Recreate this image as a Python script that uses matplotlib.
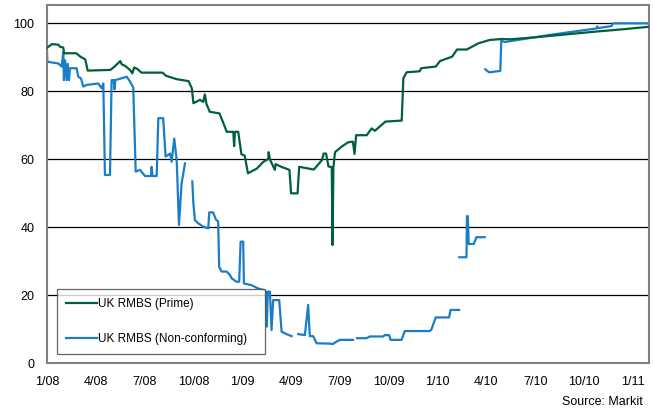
import numpy as np
import matplotlib
matplotlib.use('Agg')
import matplotlib.pyplot as plt

plt.rcParams['font.family'] = ['Liberation Sans', 'DejaVu Sans']

# x in months since Jan 2008, y in price
prime_month = [0.0, 0.3, 0.7, 0.8, 1.0, 1.05, 1.8, 2.05, 2.35, 2.5, 3.9, 4.2, 4.5, 4.6, 4.8,
               5.1, 5.25, 5.35, 5.55, 5.8, 7.1, 7.3, 7.95, 8.7, 8.9, 9.0, 9.4, 9.6, 9.7, 9.8,
               10.0, 10.6, 11.05, 11.45, 11.5, 11.55, 11.75, 11.95, 12.15, 12.35, 12.9, 13.3,
               13.6, 13.62, 13.7, 14.0, 14.05, 14.4, 14.9, 15.0, 15.4, 15.5, 16.4, 16.9, 17.0,
               17.15, 17.3, 17.5, 17.55, 17.6, 17.7, 18.1, 18.5, 18.8, 18.9, 19.0, 19.65,
               19.95, 20.15, 20.8, 21.8, 21.9, 22.1, 22.9, 23.0, 23.9, 24.15, 24.9, 25.2,
               25.8, 26.5, 27.2, 27.95, 28.5, 30.0, 32.0, 33.8, 35.5, 37.0]
prime_price = [92.7, 93.8, 93.6, 93.0, 92.8, 91.1, 91.1, 90.1, 89.3, 86.0, 86.2, 87.4, 88.8, 87.8, 87.4,
               86.2, 85.2, 86.9, 86.5, 85.4, 85.4, 84.5, 83.5, 82.9, 80.8, 76.4, 77.4, 76.8, 79.0, 76.2,
               73.9, 73.4, 68.0, 68.0, 63.8, 68.0, 68.0, 61.4, 61.0, 55.8, 57.2, 59.2,
               60.0, 62.0, 59.9, 56.8, 58.5, 57.7, 56.8, 49.9, 49.9, 57.7, 56.9, 59.7, 61.6,
               61.6, 57.8, 57.6, 34.7, 57.5, 62.0, 63.6, 64.9, 65.1, 61.5, 67.0, 67.0,
               69.0, 68.3, 71.0, 71.3, 83.7, 85.5, 85.8, 86.7, 87.2, 88.8, 90.1, 92.2,
               92.2, 94.0, 95.0, 95.3, 95.2, 95.8, 96.7, 97.5, 98.2, 98.9]

nan = np.nan
nc_month = [0.0, 0.02, 0.69, 0.9, 1.0, 1.04, 1.11, 1.21, 1.27, 1.35, 1.41, 1.82, 1.92, 2.09, 2.23,
            2.44, 3.15, 3.36, 3.46, 3.56, 3.87, 3.97, 4.1, 4.15, 4.2, 4.9, 5.1, 5.3, 5.45, 5.71,
            6.02, 6.39, 6.43, 6.48, 6.74, 6.84, 7.14, 7.29, 7.56, 7.66, 7.82, 7.97, 8.11, 8.27,
            8.48, 8.7,
            8.93, 8.99, 9.09, 9.29, 9.6, 9.91, 9.97, 10.21, 10.38, 10.52, 10.58, 10.73, 11.04,
            11.24, 11.35, 11.65, 11.81, 11.9, 12.06, 12.1, 12.36, 12.57, 12.98, 13.29, 13.45,
            13.51, 13.57, 13.7, 13.8, 13.9, 14.27, 14.42, 14.72, 15.03, 15.2,
            15.44, 15.85, 16.05, 16.15, 16.36, 16.57, 17.38, 17.59, 17.69, 18.0, 18.81, 18.95,
            19.06, 19.64, 19.84, 20.66, 20.76, 21.03, 21.11, 21.79, 21.99, 23.53, 23.63, 23.89,
            24.71, 24.8, 25.33, 25.33,
            25.34, 25.78, 25.81, 25.86, 25.92, 26.23, 26.39, 26.9, 26.91,
            26.93, 27.17, 27.86, 27.92, 28.13, 30.9, 33.77, 33.82, 33.88, 34.69, 34.79, 37.0]
nc_price = [91.5, 88.6, 88.1, 87.2, 91.3, 83.2, 89.0, 83.2, 88.0, 83.2, 86.7, 86.7, 84.2, 83.7, 81.3,
            81.8, 82.2, 80.8, 82.2, 55.3, 55.3, 83.2, 83.2, 80.5, 83.2, 84.2, 82.8, 81.0, 56.3, 56.8,
            55.0, 55.0, 57.7, 55.0, 55.0, 72.0, 72.0, 60.7, 61.6, 59.2, 66.0, 59.7, 40.6, 52.8,
            58.7, nan,
            53.4, 47.4, 42.0, 41.1, 40.1, 39.6, 44.3, 44.3, 42.2, 41.6, 28.3, 26.9, 26.9,
            25.9, 24.9, 23.9, 23.9, 35.7, 35.7, 23.4, 23.1, 22.9, 21.9, 21.5, 21.0,
            10.7, 21.0, 21.0, 9.7, 18.5, 18.5, 9.2, 8.5, 7.9, nan,
            8.5, 8.2, 17.1, 7.9, 7.9, 5.8, 5.7, 5.6, 6.0, 6.8, 6.8, nan,
            7.3, 7.3, 7.8, 7.8, 8.2, 8.2, 6.8, 6.8, 9.4, 9.4, 9.9, 13.4,
            13.4, 15.6, 15.6, nan,
            31.1, 31.1, 43.2, 43.2, 35.0, 35.0, 37.0, 37.0, nan,
            86.4, 85.5, 85.9, 94.8, 94.4, 96.5, 98.4, 99.0, 98.5, 99.1, 99.9, 99.9]

tick_months = [0, 3, 6, 9, 12, 15, 18, 21, 24, 27, 30, 33, 36]
tick_labels = ['1/08', '4/08', '7/08', '10/08', '1/09', '4/09', '7/09',
               '10/09', '1/10', '4/10', '7/10', '10/10', '1/11']

fig = plt.figure(figsize=(6.53, 4.15), dpi=100)
ax = fig.add_axes([0.072, 0.1253, 0.9219, 0.8627])

for v in [20, 40, 60, 80, 100]:
    ax.axhline(v, color='black', lw=0.9, zorder=1)

ax.plot(prime_month, prime_price, color='#00603A', lw=1.6, label='UK RMBS (Prime)', zorder=3)
ax.plot(nc_month, nc_price, color='#1A7DC8', lw=1.6, label='UK RMBS (Non-conforming)', zorder=2)

ax.set_xlim(0, 37)
ax.set_ylim(0, 105.3)
ax.set_xticks(tick_months)
ax.set_xticklabels(tick_labels)
ax.set_yticks([0, 20, 40, 60, 80, 100])
ax.tick_params(length=0, labelsize=9)
ax.tick_params(axis='x', pad=9)
ax.tick_params(axis='y', pad=9)
for s in ax.spines.values():
    s.set_color('#808080')
    s.set_linewidth(1.5)

leg = ax.legend(loc='lower left', bbox_to_anchor=(0.0166, 0.025, 0.345, 0.18), mode='expand',
                fontsize=8.5, frameon=True, fancybox=False, labelspacing=1.95, borderpad=0.75,
                handlelength=2.6, handletextpad=0.15, borderaxespad=0)
leg.get_frame().set_edgecolor('#404040')
leg.get_frame().set_linewidth(0.9)

fig.text(0.985, 0.018, 'Source: Markit', ha='right', va='bottom', fontsize=9)

fig.savefig('out.png', dpi=100)
